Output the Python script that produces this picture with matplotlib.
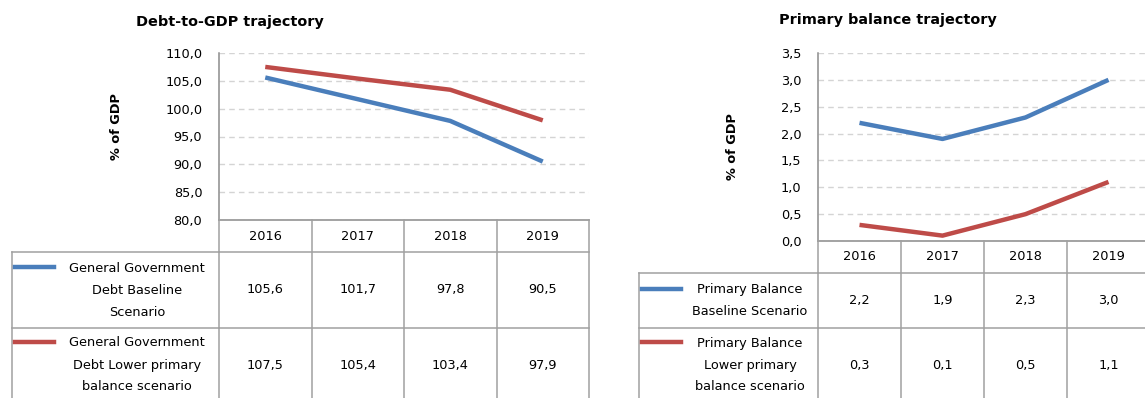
import matplotlib
matplotlib.use('Agg')
import matplotlib.pyplot as plt
from matplotlib.lines import Line2D
from matplotlib.transforms import Affine2D, blended_transform_factory

# ── Datos ────────────────────────────────────────────────────────────────
years = ['2016', '2017', '2018', '2019']

debt_base = [105.6, 101.7, 97.8, 90.5]
debt_low  = [107.5, 105.4, 103.4, 97.9]
pb_base   = [2.2, 1.9, 2.3, 3.0]
pb_low    = [0.3, 0.1, 0.5, 1.1]

debt_labels = [['General Government', 'Debt Baseline', 'Scenario'],
               ['General Government', 'Debt Lower primary', 'balance scenario']]
pb_labels   = [['Primary Balance', 'Baseline Scenario'],
               ['Primary Balance', 'Lower primary', 'balance scenario']]

debt_ticks = [80, 85, 90, 95, 100, 105, 110]
pb_ticks   = [0.0, 0.5, 1.0, 1.5, 2.0, 2.5, 3.0, 3.5]

BLUE, RED = '#4A7EBB', '#BE4B48'
GRID, SPINE, BORDER = '#D4D4D4', '#8C8C8C', '#A0A0A0'

W, H = 1145, 398
plt.rcParams['font.family'] = ['DejaVu Sans']
FS = 9.3

fig = plt.figure(figsize=(W / 100, H / 100), dpi=100)
fig.patch.set_facecolor('white')

# coordenadas en píxeles medidas desde arriba
px = Affine2D().scale(1, -1).translate(0, H)


def comma(v):
    return f'{v:.1f}'.replace('.', ',')


def hline(y, x0, x1, tr=px):
    fig.add_artist(Line2D([x0, x1], [y, y], transform=tr, color=BORDER,
                          lw=1.1, clip_on=False))


def panel(box, series, ticks, title, title_xy, ylab_xy, rows, label_x0,
          head_h, row_h):
    left, top, right, bottom = box
    ax = fig.add_axes([left / W, (H - bottom) / H,
                       (right - left) / W, (bottom - top) / H])
    x = range(len(years))
    for vals, col in series:
        ax.plot(x, vals, color=col, lw=3.2, solid_capstyle='butt')
    ax.set_xlim(-0.5, len(years) - 0.5)
    ax.set_ylim(ticks[0], ticks[-1])
    ax.set_yticks(ticks)
    ax.set_yticklabels([comma(t) for t in ticks], fontsize=FS)
    ax.set_xticks([])
    ax.tick_params(axis='y', length=0, pad=12)
    ax.grid(axis='y', color=GRID, lw=1, ls=(0, (4, 3)))
    for s in ('top', 'right'):
        ax.spines[s].set_visible(False)
    ax.spines['left'].set_color(SPINE)
    ax.spines['bottom'].set_color(BORDER)
    ax.spines['left'].set_linewidth(1.1)
    ax.spines['bottom'].set_linewidth(1.1)

    fig.text(*title_xy, title, transform=px, ha='center', va='center',
             fontsize=10.4, fontweight='semibold')
    fig.text(*ylab_xy, '% of GDP', transform=px, ha='center', va='center',
             rotation=90, fontsize=FS, fontweight='bold')

    # ── tabla de datos bajo el gráfico ──
    colx = blended_transform_factory(ax.transData, px)
    n = len(years)
    y_head = bottom + head_h
    y_r1 = y_head + row_h
    y_end = H + 10
    hline(bottom, -0.5, n - 0.5, colx)
    hline(y_head, label_x0, left)
    hline(y_head, -0.5, n - 0.5, colx)
    hline(y_r1, label_x0, left)
    hline(y_r1, -0.5, n - 0.5, colx)
    for i in range(n + 1):
        fig.add_artist(Line2D([i - 0.5, i - 0.5], [bottom, y_end],
                              transform=colx, color=BORDER, lw=1.1,
                              clip_on=False))
    fig.add_artist(Line2D([label_x0, label_x0], [y_head, y_end],
                          transform=px, color=BORDER, lw=1.1, clip_on=False))

    for i, yr in enumerate(years):
        fig.text(i, bottom + head_h / 2, yr, transform=colx, ha='center',
                 va='center', fontsize=FS)

    row_mid = [y_head + row_h / 2, y_r1 + (y_end - 10 - y_r1) / 2 + 2]
    text_cx = (label_x0 + 43 + left) / 2
    for r, ((vals, col), lines) in enumerate(zip(series, rows)):
        cy = row_mid[r]
        step = 22
        first = cy - step * (len(lines) - 1) / 2
        for k, ln in enumerate(lines):
            fig.text(text_cx, first + k * step, ln, transform=px,
                     ha='center', va='center', fontsize=FS)
        fig.add_artist(Line2D([label_x0 + 3, label_x0 + 42],
                              [first - 1, first - 1], transform=px,
                              color=col, lw=3.2, clip_on=False))
        for i, v in enumerate(vals):
            fig.text(i, cy, comma(v), transform=colx, ha='center',
                     va='center', fontsize=FS)
    return ax


panel((219, 53, 589, 220), [(debt_base, BLUE), (debt_low, RED)], debt_ticks,
      'Debt-to-GDP trajectory', (230, 22), (117, 127), debt_labels,
      12, 32, 76)
panel((818, 53, 1150, 241), [(pb_base, BLUE), (pb_low, RED)], pb_ticks,
      'Primary balance trajectory', (888, 20), (732, 147), pb_labels,
      639, 32, 55)

fig.savefig('out.png', dpi=100, facecolor='white')
